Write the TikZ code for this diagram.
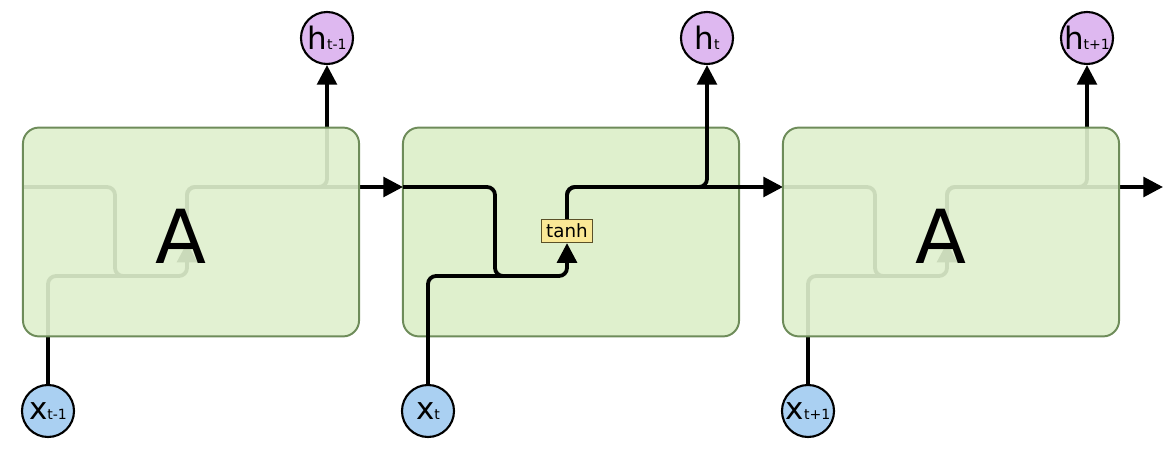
\documentclass[tikz,border=0pt]{standalone}
\usepackage{fontspec}
\setmainfont{DejaVu Sans}
\usetikzlibrary{arrows.meta}
\definecolor{cell_fill}{RGB}{223,240,205}
\definecolor{cell_edge}{RGB}{110,140,90}
\definecolor{node_purple}{RGB}{222,184,240}
\definecolor{node_blue}{RGB}{170,208,242}
\definecolor{gate_yellow}{RGB}{250,232,150}
\definecolor{gate_edge}{RGB}{90,80,40}
\newcommand{\circlabel}[2]{{\fontsize{22}{22}\selectfont #1}{\fontsize{10}{10}\selectfont #2}}

\begin{document}
\begin{tikzpicture}[x=0.025cm,y=-0.025cm,>={Triangle[length=14pt,width=14pt]}]
    \tikzstyle{cell}=[draw=cell_edge, line width=1.4pt, fill=cell_fill, rounded corners=0.4cm, minimum width=8.4cm, minimum height=5.22cm]
    \tikzstyle{state}=[draw=black, circle, line width=1.5pt, minimum size=1.3cm, inner sep=0pt, text=black]
    \tikzstyle{hid}=[style=state, fill=node_purple]
    \tikzstyle{inp}=[style=state, fill=node_blue]
    \tikzstyle{gate}=[draw=gate_edge, line width=1pt, fill=gate_yellow, minimum width=1.27cm, minimum height=0.57cm, inner sep=0pt, font=\fontsize{13}{13}\selectfont]
    \tikzstyle{nogate}=[minimum width=1.27cm, minimum height=0.57cm, inner sep=0pt]
    \tikzstyle{wire}=[line width=2.7pt, rounded corners=0.2cm]

    \useasboundingbox (0,0) rectangle (1176,452);

    \node[cell] (cellM) at (571,232) {};
    \node[nogate] (tanhL) at (187,231) {};
    \node[gate]   (tanhM) at (567,231) {tanh};
    \node[nogate] (tanhR) at (947,231) {};

    \foreach \i/\dx/\sub in {L/-380/t-1, M/0/t, R/380/t+1} {
      \node[hid] (h\i) at ({707+\dx},38)  {\circlabel{h}{\sub}};
      \node[inp] (x\i) at ({428+\dx},411) {\circlabel{x}{\sub}};
      \coordinate (in\i)  at ({403+\dx},187);
      \coordinate (out\i) at ({783+\dx},187);
      \coordinate (mix\i) at ({495+\dx},276);
      % state line and input line meet, then go through the gate
      \draw[wire] (in\i) -| (mix\i) -- ++(40,0);
      \draw[wire,->] (x\i) |- (mix\i) -| (tanh\i);
      \draw[wire,->] (tanh\i) |- (out\i);
      \draw[wire,->] (tanh\i) |- ({650+\dx},187) -| (h\i);
    }

    \node[cell, fill opacity=0.91] (cellL) at (191,232) {};
    \node[cell, fill opacity=0.91] (cellR) at (951,232) {};
    \node[font=\fontsize{53}{53}\selectfont] (aL) at (181,236) {A};
    \node[font=\fontsize{53}{53}\selectfont] (aR) at (941,236) {A};
\end{tikzpicture}
\end{document}
